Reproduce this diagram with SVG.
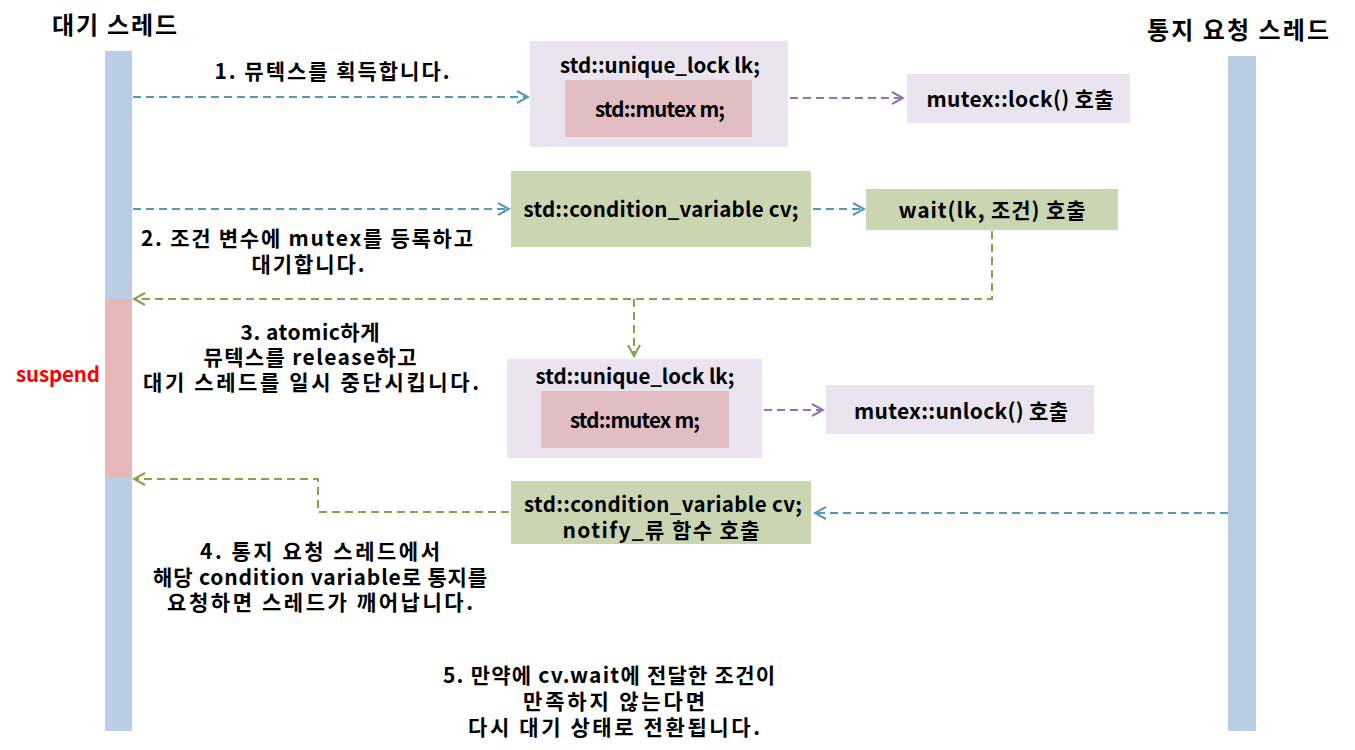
<svg xmlns="http://www.w3.org/2000/svg" width="1355" height="750" viewBox="0 0 1355 750">
<defs>
<style>
text{font-family:"Malgun Gothic","Noto Sans CJK KR","Noto Sans",sans-serif;font-weight:bold;font-size:21px;fill:#000;text-anchor:middle}
.title{font-size:24px}
.lat{font-size:20.5px}
.lav{fill:#E9E4EF}
.pink{fill:#E2BEC3}
.grn{fill:#CAD6B2}
.life{fill:#B9CDE5}
.teal{stroke:#4E9DB2;stroke-width:2;stroke-dasharray:8 5;fill:none}
.purp{stroke:#8E76A8;stroke-width:2;stroke-dasharray:8 5;fill:none}
.green{stroke:#86A24A;stroke-width:2;stroke-dasharray:8 5;fill:none}
</style>
<marker id="aT" markerWidth="14" markerHeight="14" refX="12" refY="7" orient="auto" markerUnits="userSpaceOnUse"><path d="M1,1 L12,7 L1,13" fill="none" stroke="#4E9DB2" stroke-width="2"/></marker>
<marker id="aP" markerWidth="14" markerHeight="14" refX="12" refY="7" orient="auto" markerUnits="userSpaceOnUse"><path d="M1,1 L12,7 L1,13" fill="none" stroke="#8E76A8" stroke-width="2"/></marker>
<marker id="aG" markerWidth="14" markerHeight="14" refX="12" refY="7" orient="auto" markerUnits="userSpaceOnUse"><path d="M1,1 L12,7 L1,13" fill="none" stroke="#86A24A" stroke-width="2"/></marker>
</defs>
<rect width="1355" height="750" fill="#fff"/>

<g id="waitThread">
<rect class="life" x="105" y="51" width="27" height="680"/>
<rect x="105" y="299" width="27" height="178" fill="#E6B9B8"/>
<text class="title" x="114.5" y="34" textLength="125">대기 스레드</text>
<text class="lat" x="58" y="382" textLength="84" style="fill:#FF0000">suspend</text>
</g>

<g id="notifyThread">
<rect class="life" x="1228" y="56" width="28" height="675"/>
<text class="title" x="1238" y="39" textLength="182">통지 요청 스레드</text>
</g>

<g id="lock1">
<rect class="lav" x="530" y="41" width="258" height="106"/>
<text class="lat" x="660" y="73" textLength="200">std::unique_lock lk;</text>
<rect class="pink" x="565" y="80" width="187" height="57"/>
<text class="lat" x="660" y="117" textLength="130">std::mutex m;</text>
</g>

<g id="lockCall">
<rect class="lav" x="907" y="74" width="223" height="49"/>
<text x="1020" y="107" textLength="187">mutex::lock() 호출</text>
</g>

<g id="cv1">
<rect class="grn" x="511" y="171" width="300" height="76"/>
<text class="lat" x="661" y="217" textLength="275">std::condition_variable cv;</text>
</g>

<g id="waitCall">
<rect class="grn" x="866" y="189" width="252" height="41"/>
<text x="992" y="218" textLength="187">wait(lk, 조건) 호출</text>
</g>

<g id="lock2">
<rect class="lav" x="507" y="359" width="255" height="99"/>
<text class="lat" x="635" y="384" textLength="199">std::unique_lock lk;</text>
<rect class="pink" x="541" y="391" width="188" height="57"/>
<text class="lat" x="635" y="428" textLength="130">std::mutex m;</text>
</g>

<g id="unlockCall">
<rect class="lav" x="826" y="385" width="268" height="49"/>
<text x="961" y="419" textLength="214">mutex::unlock() 호출</text>
</g>

<g id="cv2">
<rect class="grn" x="511" y="481" width="300" height="63"/>
<text class="lat" x="663" y="512" textLength="278">std::condition_variable cv;</text>
<text x="661" y="538" textLength="197">notify_류 함수 호출</text>
</g>

<g id="labels">
<text x="332" y="79" textLength="235">1. 뮤텍스를 획득합니다.</text>
<text x="307" y="246" textLength="332">2. 조건 변수에 mutex를 등록하고</text>
<text x="308" y="272" textLength="113">대기합니다.</text>
<text x="310" y="340" textLength="139">3. atomic하게</text>
<text x="310" y="365" textLength="213">뮤텍스를 release하고</text>
<text x="311" y="390" textLength="336">대기 스레드를 일시 중단시킵니다.</text>
<text x="320" y="559" textLength="240">4. 통지 요청 스레드에서</text>
<text x="320" y="585" textLength="334">해당 condition variable로 통지를</text>
<text x="320" y="610" textLength="306">요청하면 스레드가 깨어납니다.</text>
<text x="609" y="683" textLength="332">5. 만약에 cv.wait에 전달한 조건이</text>
<text x="614" y="709" textLength="182">만족하지 않는다면</text>
<text x="614" y="735" textLength="292">다시 대기 상태로 전환됩니다.</text>
</g>

<g id="connectors">
<path class="teal" d="M133,97 H528" marker-end="url(#aT)"/>
<path class="purp" d="M790,98 H903" marker-end="url(#aP)"/>
<path class="teal" d="M133,209 H509" marker-end="url(#aT)"/>
<path class="teal" d="M813,209 H864" marker-end="url(#aT)"/>
<path class="green" d="M992,231 V299 H134" marker-end="url(#aG)"/>
<path class="green" d="M634,299 V356" marker-end="url(#aG)"/>
<path class="purp" d="M764,410 H823" marker-end="url(#aP)"/>
<path class="teal" d="M1228,513 H815" marker-end="url(#aT)"/>
<path class="green" d="M509,512 H318 V479 H134" marker-end="url(#aG)"/>
</g>
</svg>
